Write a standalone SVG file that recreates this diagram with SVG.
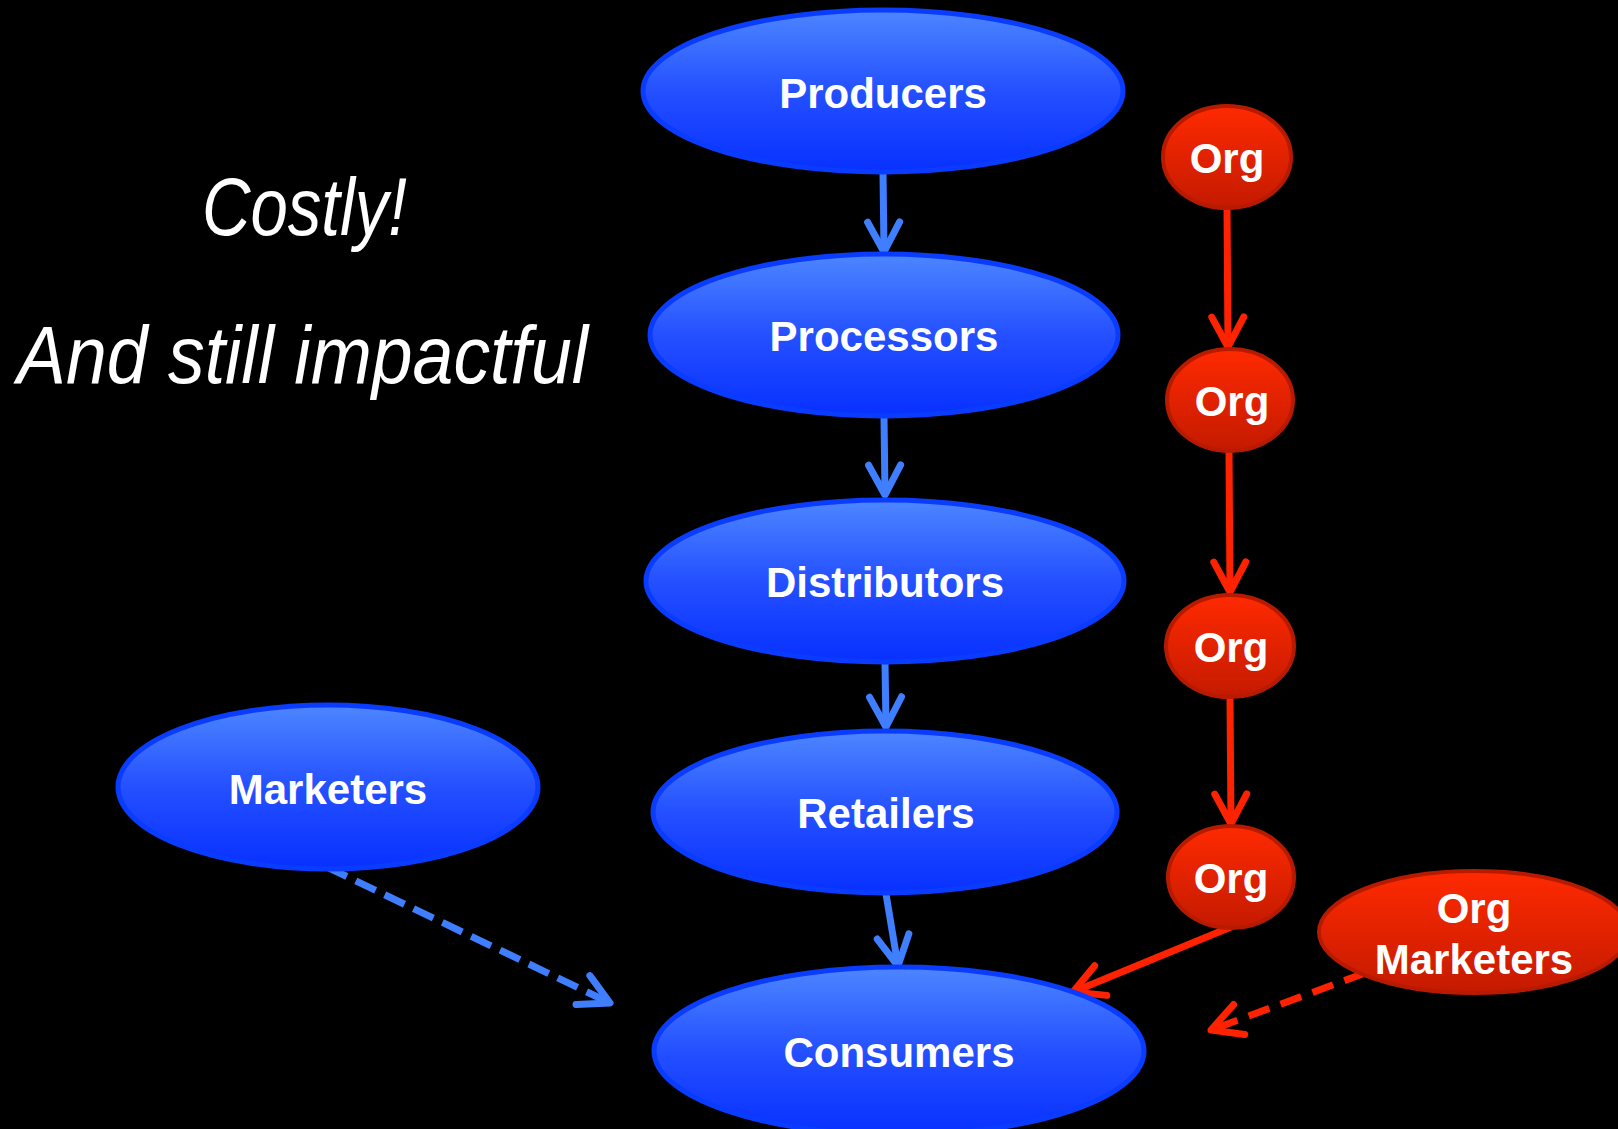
<svg xmlns="http://www.w3.org/2000/svg" width="1618" height="1129" viewBox="0 0 1618 1129">
<defs>
<linearGradient id="gb" x1="0" y1="0" x2="0" y2="1">
<stop offset="0" stop-color="#4d86ff"/>
<stop offset="0.5" stop-color="#2450ff"/>
<stop offset="1" stop-color="#0830ff"/>
</linearGradient>
<linearGradient id="gr" x1="0" y1="0" x2="0" y2="1">
<stop offset="0" stop-color="#ff2a00"/>
<stop offset="1" stop-color="#c41a00"/>
</linearGradient>
<marker id="ab" markerUnits="userSpaceOnUse" markerWidth="60" markerHeight="60" viewBox="-40 -30 60 60" refX="0" refY="0" orient="auto">
<path d="M-30,-16 L0,0 L-30,16" fill="none" stroke="#3f7fff" stroke-width="7" stroke-linecap="round" stroke-linejoin="round"/>
</marker>
<marker id="ar" markerUnits="userSpaceOnUse" markerWidth="60" markerHeight="60" viewBox="-40 -30 60 60" refX="0" refY="0" orient="auto">
<path d="M-30,-16 L0,0 L-30,16" fill="none" stroke="#ff2200" stroke-width="7" stroke-linecap="round" stroke-linejoin="round"/>
</marker>
</defs>
<style>
.bn{fill:url(#gb);stroke:#0a3cff;stroke-width:5}
.rn{fill:url(#gr);stroke:#b81a00;stroke-width:4}
.lbl{fill:#fff;font-family:"Liberation Sans",Arial,sans-serif;font-weight:bold;font-size:42px;text-anchor:middle}
.it{fill:#fff;font-family:"Liberation Sans",Arial,sans-serif;font-style:italic;font-size:82px}
.cb{stroke:#3f7fff;stroke-width:7;fill:none;marker-end:url(#ab)}
.cr{stroke:#ff2200;stroke-width:7;fill:none;marker-end:url(#ar)}
</style>
<rect width="1618" height="1129" fill="#000"/>
<text class="it" x="202" y="235" textLength="205" lengthAdjust="spacingAndGlyphs">Costly!</text>
<text class="it" x="17" y="383" textLength="571" lengthAdjust="spacingAndGlyphs">And still impactful</text>
<g id="connectors">
<line class="cb" x1="883" y1="172" x2="884" y2="252"/>
<line class="cb" x1="884" y1="417" x2="885" y2="495"/>
<line class="cb" x1="885" y1="662" x2="886" y2="727"/>
<line class="cb" x1="886" y1="894" x2="898" y2="966"/>
<line class="cb" x1="327" y1="867" x2="610" y2="1003" stroke-dasharray="22 10"/>
<line class="cr" x1="1227" y1="207" x2="1228" y2="347"/>
<line class="cr" x1="1229" y1="451" x2="1230" y2="592"/>
<line class="cr" x1="1230" y1="698" x2="1231" y2="824"/>
<line class="cr" x1="1231" y1="927" x2="1073" y2="992"/>
<line class="cr" x1="1365" y1="973" x2="1211" y2="1030" stroke-dasharray="22 12"/>
</g>
<g id="producers"><ellipse class="bn" cx="883" cy="91" rx="240" ry="81"/><text class="lbl" x="883" y="108">Producers</text></g>
<g id="processors"><ellipse class="bn" cx="884" cy="335" rx="234" ry="81"/><text class="lbl" x="884" y="351">Processors</text></g>
<g id="distributors"><ellipse class="bn" cx="885" cy="581" rx="239" ry="81"/><text class="lbl" x="885" y="597">Distributors</text></g>
<g id="retailers"><ellipse class="bn" cx="885" cy="812" rx="232" ry="81"/><text class="lbl" x="886" y="828">Retailers</text></g>
<g id="consumers"><ellipse class="bn" cx="899" cy="1051" rx="245" ry="84"/><text class="lbl" x="899" y="1067">Consumers</text></g>
<g id="marketers"><ellipse class="bn" cx="328" cy="787" rx="210" ry="82"/><text class="lbl" x="328" y="804">Marketers</text></g>
<g id="org1"><ellipse class="rn" cx="1227" cy="157" rx="64" ry="51"/><text class="lbl" x="1227" y="173">Org</text></g>
<g id="org2"><ellipse class="rn" cx="1230" cy="400" rx="63" ry="51"/><text class="lbl" x="1232" y="416">Org</text></g>
<g id="org3"><ellipse class="rn" cx="1230" cy="646" rx="64" ry="51"/><text class="lbl" x="1231" y="662">Org</text></g>
<g id="org4"><ellipse class="rn" cx="1231" cy="877" rx="63" ry="51"/><text class="lbl" x="1231" y="893">Org</text></g>
<g id="orgmarketers"><ellipse class="rn" cx="1474" cy="932" rx="155" ry="61"/><text class="lbl" x="1474" y="923">Org</text><text class="lbl" x="1474" y="974">Marketers</text></g>
</svg>
